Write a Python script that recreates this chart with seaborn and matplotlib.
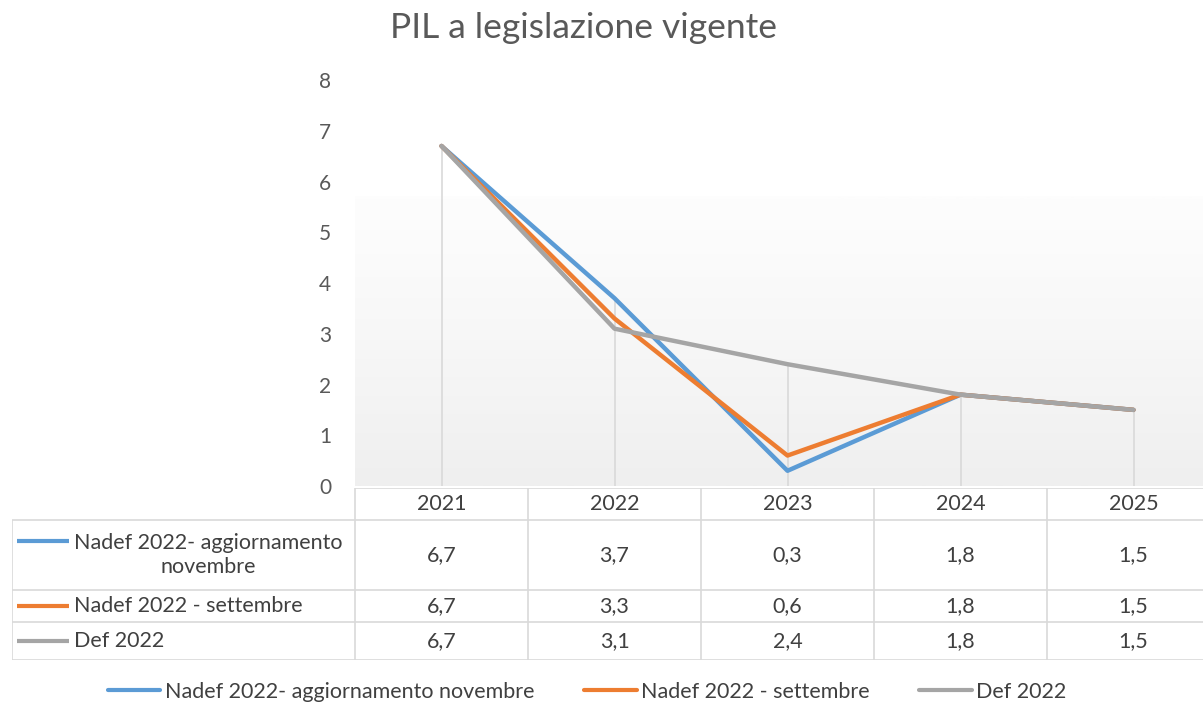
import numpy as np
import matplotlib
matplotlib.use('Agg')
import matplotlib.pyplot as plt
import seaborn as sns
import pandas as pd

# Dati del grafico
anni = ['2021', '2022', '2023', '2024', '2025']
serie = ['Nadef 2022- aggiornamento novembre', 'Nadef 2022 - settembre', 'Def 2022']
etichette_tabella = ['Nadef 2022- aggiornamento\nnovembre', 'Nadef 2022 - settembre', 'Def 2022']
nadef_nov = [6.7, 3.7, 0.3, 1.8, 1.5]
nadef_set = [6.7, 3.3, 0.6, 1.8, 1.5]
def_2022 = [6.7, 3.1, 2.4, 1.8, 1.5]
colori = ['#5B9BD5', '#ED7D31', '#A5A5A5']
y_ticks = [0, 1, 2, 3, 4, 5, 6, 7, 8]

sns.set_theme(style='white')
plt.rcParams['font.family'] = ['Lato', 'DejaVu Sans']

valori = [nadef_nov, nadef_set, def_2022]
df = pd.DataFrame({'anno': anni * 3,
                   'x': list(range(len(anni))) * 3,
                   'valore': nadef_nov + nadef_set + def_2022,
                   'serie': [s for s in serie for _ in anni]})

W, H = 1203, 704
fs = 15.5
fig = plt.figure(figsize=(W / 100, H / 100), dpi=100)
fig.patch.set_facecolor('white')

# asse principale (si estende oltre il bordo destro, come nell'originale)
left, right = 355, 1220
ax = fig.add_axes([left / W, (H - 486) / H, (right - left) / W, (486 - 80) / H])
ax.set_xlim(-0.5, len(anni) - 0.5)
ax.set_ylim(0, 8)

# sfondo sfumato
grad = np.linspace(0, 1, 256).reshape(-1, 1) ** 1.2
ax.imshow(grad, extent=[-0.5, len(anni) - 0.5, 0, 5.7], aspect='auto',
          cmap=matplotlib.colors.LinearSegmentedColormap.from_list('g', ['#fdfdfd', '#efefef']),
          origin='upper', zorder=0)
ax.set_ylim(0, 8)

# linee di riferimento verticali
massimi = np.max(np.array(valori), axis=0)
ax.vlines(range(len(anni)), 0, massimi, color='#d9d9d9', lw=1.2, zorder=1)

sns.lineplot(data=df, x='x', y='valore', hue='serie', hue_order=serie,
             palette=colori, lw=3.2, ax=ax, legend=False, zorder=3,
             solid_capstyle='round', solid_joinstyle='round')

ax.set_xlabel('')
ax.set_ylabel('')
ax.set_xticks([])
ax.set_yticks(y_ticks)
ax.set_yticklabels([str(t) for t in y_ticks], color='#595959', fontsize=fs - 0.5)
ax.tick_params(axis='y', length=0, pad=17)
for s in ax.spines.values():
    s.set_visible(False)

fig.text(584 / W, 1 - 28 / H, 'PIL a legislazione vigente', ha='center', va='center',
         fontsize=25.5, color='#595959')

# tabella dei dati
tl, tt, tb = 12, 488, 660
tab = fig.add_axes([tl / W, (H - tb) / H, (right - tl) / W, (tb - tt) / H])
px = (right - left) / len(anni)
x0 = -0.5 - (left - tl) / px
tab.set_xlim(x0, len(anni) - 0.5)
tab.set_ylim(tb - tt, 0)
tab.axis('off')
righe = [0, 32, 102, 134, 172]
gc = '#d9d9d9'
tab.hlines(righe[0], -0.5, len(anni) - 0.5, color=gc, lw=1.2)
tab.hlines(righe[1:], x0, len(anni) - 0.5, color=gc, lw=1.2)
tab.vlines([x0], righe[1], righe[-1], color=gc, lw=1.2)
tab.vlines(np.arange(len(anni)) - 0.5, righe[0], righe[-1], color=gc, lw=1.2)
tc = '#404040'
for i, a in enumerate(anni):
    tab.text(i, (righe[0] + righe[1]) / 2, a, ha='center', va='center', fontsize=fs, color=tc)
for r, (lab, vals, c) in enumerate(zip(etichette_tabella, valori, colori)):
    yc = (righe[r + 1] + righe[r + 2]) / 2
    for i, v in enumerate(vals):
        tab.text(i, yc, f'{v:.1f}'.replace('.', ','), ha='center', va='center', fontsize=fs, color=tc)
    ly = yc - 14 if r == 0 else yc
    tab.plot([x0 + 5 / px, x0 + 57 / px], [ly, ly], color=c, lw=3, solid_capstyle='butt')
    tab.text(x0 + 62 / px, yc, lab, ha='left', va='center', fontsize=fs,
             color=tc, multialignment='center', linespacing=1.25)

# legenda
handles = [matplotlib.lines.Line2D([], [], color=c, lw=3) for c in colori]
fig.legend(handles, serie, loc='center', bbox_to_anchor=(587 / W, 1 - 692 / H), ncol=3,
           frameon=False, fontsize=fs, handlelength=2.45, handletextpad=0.2,
           columnspacing=2.3, labelcolor='#404040')

fig.savefig('out.png', dpi=100, facecolor='white')
